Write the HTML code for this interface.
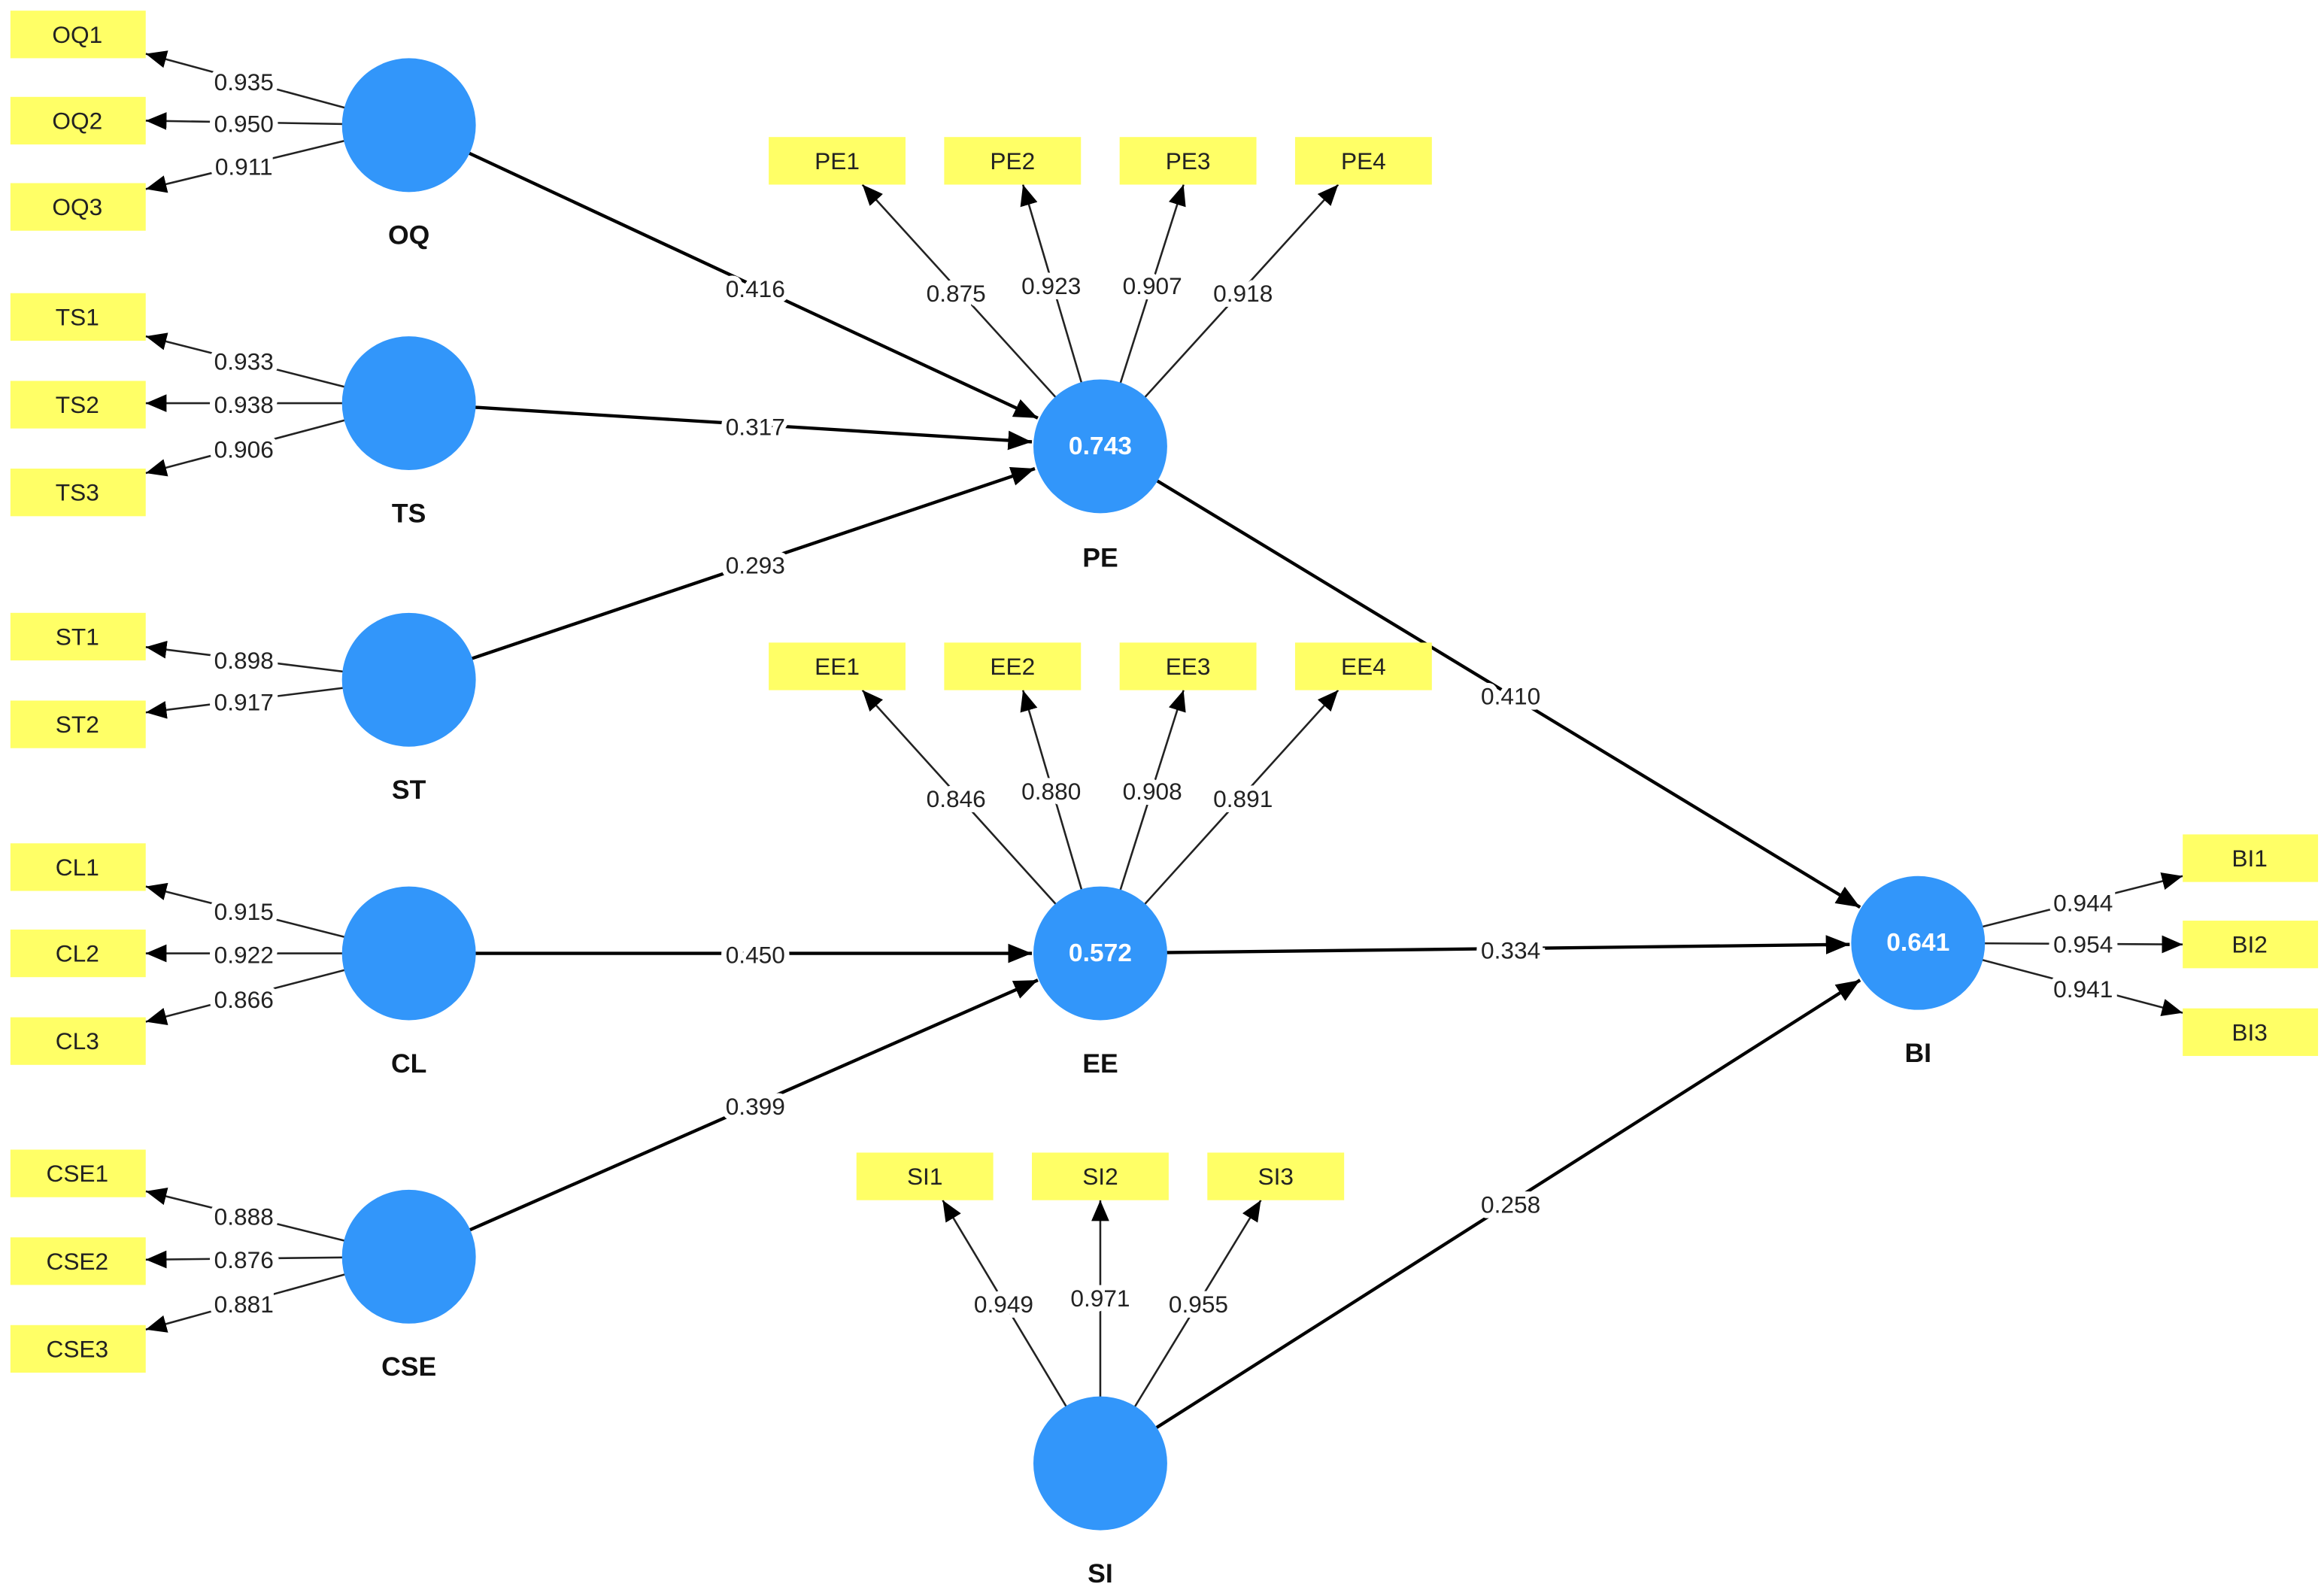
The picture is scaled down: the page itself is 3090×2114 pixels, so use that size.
<!DOCTYPE html>
<html><head><meta charset="utf-8"><style>
html,body{margin:0;padding:0;background:#fff;}
svg{display:block;}
text{font-family:"Liberation Sans",sans-serif;}
.ld{font-size:16px;fill:#222;text-anchor:middle;dominant-baseline:central;stroke:#fff;stroke-width:7px;paint-order:stroke;}
.bx{fill:#ffff66;}
.bt{font-size:16px;fill:#222;text-anchor:middle;dominant-baseline:central;}
.nm{font-size:18px;font-weight:bold;fill:#111;text-anchor:middle;dominant-baseline:central;}
.cv{font-size:17px;font-weight:bold;fill:#fff;text-anchor:middle;dominant-baseline:central;}
.t{stroke:#222;stroke-width:1.3;marker-end:url(#a);}
.k{stroke:#000;stroke-width:2.2;marker-end:url(#b);}
.c{fill:#3296fa;}
</style></head><body>
<svg width="3090" height="2114" viewBox="0 0 1563 1069" xmlns="http://www.w3.org/2000/svg">
<defs>
<marker id="a" markerUnits="userSpaceOnUse" markerWidth="14" markerHeight="12" viewBox="0 0 14 12" refX="14" refY="6" orient="auto"><path d="M0,0 L14,6 L0,12 z" fill="#000"/></marker>
<marker id="b" markerUnits="userSpaceOnUse" markerWidth="16" markerHeight="13" viewBox="0 0 16 13" refX="16" refY="6.5" orient="auto"><path d="M0,0 L16,6.5 L0,13 z" fill="#000"/></marker>
</defs>
<!-- left indicator lines -->
<line class="t" x1="275" y1="84" x2="98" y2="36"/><line class="t" x1="275" y1="84" x2="98" y2="81"/><line class="t" x1="275" y1="84" x2="98" y2="127"/>
<line class="t" x1="275" y1="271" x2="98" y2="226"/><line class="t" x1="275" y1="271" x2="98" y2="271"/><line class="t" x1="275" y1="271" x2="98" y2="318"/>
<line class="t" x1="275" y1="457" x2="98" y2="435"/><line class="t" x1="275" y1="457" x2="98" y2="479"/>
<line class="t" x1="275" y1="641" x2="98" y2="596"/><line class="t" x1="275" y1="641" x2="98" y2="641"/><line class="t" x1="275" y1="641" x2="98" y2="687"/>
<line class="t" x1="275" y1="845" x2="98" y2="801"/><line class="t" x1="275" y1="845" x2="98" y2="847"/><line class="t" x1="275" y1="845" x2="98" y2="894"/>
<!-- PE/EE/SI/BI indicator lines -->
<line class="t" x1="740" y1="300" x2="580" y2="124"/><line class="t" x1="740" y1="300" x2="688" y2="124"/><line class="t" x1="740" y1="300" x2="796" y2="124"/><line class="t" x1="740" y1="300" x2="900" y2="124"/>
<line class="t" x1="740" y1="641" x2="580" y2="464"/><line class="t" x1="740" y1="641" x2="688" y2="464"/><line class="t" x1="740" y1="641" x2="796" y2="464"/><line class="t" x1="740" y1="641" x2="900" y2="464"/>
<line class="t" x1="740" y1="984" x2="634" y2="807"/><line class="t" x1="740" y1="984" x2="740" y2="807"/><line class="t" x1="740" y1="984" x2="848" y2="807"/>
<line class="t" x1="1290" y1="634" x2="1468" y2="589"/><line class="t" x1="1290" y1="634" x2="1468" y2="635"/><line class="t" x1="1290" y1="634" x2="1468" y2="681"/>
<!-- structural paths -->
<line class="k" x1="275" y1="84" x2="698" y2="281"/>
<line class="k" x1="275" y1="271" x2="694" y2="297"/>
<line class="k" x1="275" y1="457" x2="696" y2="315"/>
<line class="k" x1="275" y1="641" x2="694" y2="641"/>
<line class="k" x1="275" y1="845" x2="698" y2="659"/>
<line class="k" x1="740" y1="300" x2="1251" y2="610"/>
<line class="k" x1="740" y1="641" x2="1244" y2="635"/>
<line class="k" x1="740" y1="984" x2="1251" y2="659"/>
<!-- circles -->
<circle class="c" cx="275" cy="84" r="45"/><circle class="c" cx="275" cy="271" r="45"/><circle class="c" cx="275" cy="457" r="45"/><circle class="c" cx="275" cy="641" r="45"/><circle class="c" cx="275" cy="845" r="45"/>
<circle class="c" cx="740" cy="300" r="45"/><circle class="c" cx="740" cy="641" r="45"/><circle class="c" cx="740" cy="984" r="45"/><circle class="c" cx="1290" cy="634" r="45"/>
<text class="cv" x="740" y="300">0.743</text><text class="cv" x="740" y="641">0.572</text><text class="cv" x="1290" y="634">0.641</text>
<text class="nm" x="275" y="158">OQ</text><text class="nm" x="275" y="345">TS</text><text class="nm" x="275" y="531">ST</text><text class="nm" x="275" y="715">CL</text><text class="nm" x="275" y="919">CSE</text>
<text class="nm" x="740" y="375">PE</text><text class="nm" x="740" y="715">EE</text><text class="nm" x="740" y="1058">SI</text><text class="nm" x="1290" y="708">BI</text>
<!-- boxes -->
<g>
<rect class="bx" x="7" y="7" width="91" height="32"/><text class="bt" x="52" y="23">OQ1</text>
<rect class="bx" x="7" y="65" width="91" height="32"/><text class="bt" x="52" y="81">OQ2</text>
<rect class="bx" x="7" y="123" width="91" height="32"/><text class="bt" x="52" y="139">OQ3</text>
<rect class="bx" x="7" y="197" width="91" height="32"/><text class="bt" x="52" y="213">TS1</text>
<rect class="bx" x="7" y="256" width="91" height="32"/><text class="bt" x="52" y="272">TS2</text>
<rect class="bx" x="7" y="315" width="91" height="32"/><text class="bt" x="52" y="331">TS3</text>
<rect class="bx" x="7" y="412" width="91" height="32"/><text class="bt" x="52" y="428">ST1</text>
<rect class="bx" x="7" y="471" width="91" height="32"/><text class="bt" x="52" y="487">ST2</text>
<rect class="bx" x="7" y="567" width="91" height="32"/><text class="bt" x="52" y="583">CL1</text>
<rect class="bx" x="7" y="625" width="91" height="32"/><text class="bt" x="52" y="641">CL2</text>
<rect class="bx" x="7" y="684" width="91" height="32"/><text class="bt" x="52" y="700">CL3</text>
<rect class="bx" x="7" y="773" width="91" height="32"/><text class="bt" x="52" y="789">CSE1</text>
<rect class="bx" x="7" y="832" width="91" height="32"/><text class="bt" x="52" y="848">CSE2</text>
<rect class="bx" x="7" y="891" width="91" height="32"/><text class="bt" x="52" y="907">CSE3</text>
<rect class="bx" x="517" y="92" width="92" height="32"/><text class="bt" x="563" y="108">PE1</text>
<rect class="bx" x="635" y="92" width="92" height="32"/><text class="bt" x="681" y="108">PE2</text>
<rect class="bx" x="753" y="92" width="92" height="32"/><text class="bt" x="799" y="108">PE3</text>
<rect class="bx" x="871" y="92" width="92" height="32"/><text class="bt" x="917" y="108">PE4</text>
<rect class="bx" x="517" y="432" width="92" height="32"/><text class="bt" x="563" y="448">EE1</text>
<rect class="bx" x="635" y="432" width="92" height="32"/><text class="bt" x="681" y="448">EE2</text>
<rect class="bx" x="753" y="432" width="92" height="32"/><text class="bt" x="799" y="448">EE3</text>
<rect class="bx" x="871" y="432" width="92" height="32"/><text class="bt" x="917" y="448">EE4</text>
<rect class="bx" x="576" y="775" width="92" height="32"/><text class="bt" x="622" y="791">SI1</text>
<rect class="bx" x="694" y="775" width="92" height="32"/><text class="bt" x="740" y="791">SI2</text>
<rect class="bx" x="812" y="775" width="92" height="32"/><text class="bt" x="858" y="791">SI3</text>
<rect class="bx" x="1468" y="561" width="91" height="32"/><text class="bt" x="1513" y="577">BI1</text>
<rect class="bx" x="1468" y="619" width="91" height="32"/><text class="bt" x="1513" y="635">BI2</text>
<rect class="bx" x="1468" y="678" width="91" height="32"/><text class="bt" x="1513" y="694">BI3</text>
</g>
<!-- loading labels -->
<text class="ld" x="164" y="55">0.935</text><text class="ld" x="164" y="83">0.950</text><text class="ld" x="164" y="112">0.911</text>
<text class="ld" x="164" y="243">0.933</text><text class="ld" x="164" y="272">0.938</text><text class="ld" x="164" y="302">0.906</text>
<text class="ld" x="164" y="444">0.898</text><text class="ld" x="164" y="472">0.917</text>
<text class="ld" x="164" y="613">0.915</text><text class="ld" x="164" y="642">0.922</text><text class="ld" x="164" y="672">0.866</text>
<text class="ld" x="164" y="818">0.888</text><text class="ld" x="164" y="847">0.876</text><text class="ld" x="164" y="877">0.881</text>
<text class="ld" x="643" y="197">0.875</text><text class="ld" x="707" y="192">0.923</text><text class="ld" x="775" y="192">0.907</text><text class="ld" x="836" y="197">0.918</text>
<text class="ld" x="643" y="537">0.846</text><text class="ld" x="707" y="532">0.880</text><text class="ld" x="775" y="532">0.908</text><text class="ld" x="836" y="537">0.891</text>
<text class="ld" x="675" y="877">0.949</text><text class="ld" x="740" y="873">0.971</text><text class="ld" x="806" y="877">0.955</text>
<text class="ld" x="1401" y="607">0.944</text><text class="ld" x="1401" y="635">0.954</text><text class="ld" x="1401" y="665">0.941</text>
<text class="ld" x="508" y="194">0.416</text><text class="ld" x="508" y="287">0.317</text><text class="ld" x="508" y="380">0.293</text>
<text class="ld" x="508" y="642">0.450</text><text class="ld" x="508" y="744">0.399</text>
<text class="ld" x="1016" y="468">0.410</text><text class="ld" x="1016" y="639">0.334</text><text class="ld" x="1016" y="810">0.258</text>
</svg>
</body></html>
